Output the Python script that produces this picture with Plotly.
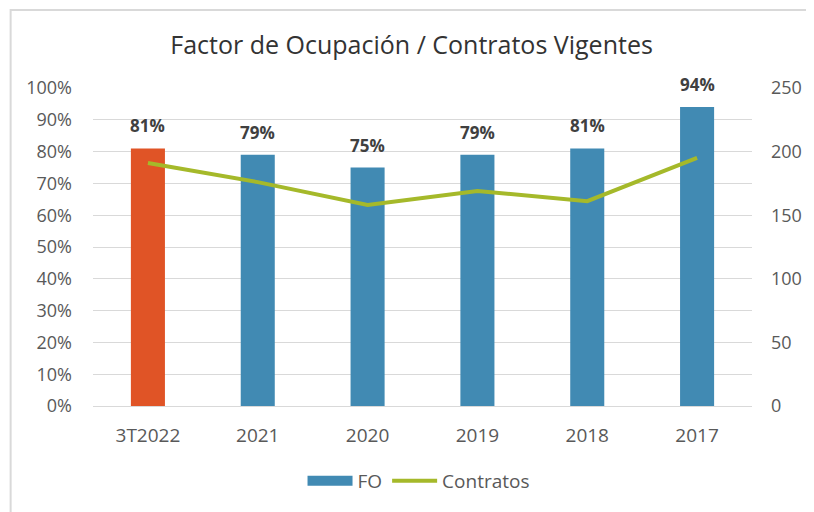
import plotly.graph_objects as go

categories = ["3T2022", "2021", "2020", "2019", "2018", "2017"]
fo_values = [0.81, 0.79, 0.75, 0.79, 0.81, 0.94]
fo_labels = ["81%", "79%", "75%", "79%", "81%", "94%"]
contratos = [191, 176, 158, 169, 161, 195]
highlight = "3T2022"

BLUE = "#418ab3"
RED = "#e05426"
GREEN = "#a5b92a"
FONT = "Open Sans, sans-serif"
TICK = "#595959"

# page offset (browser body margin)
OFF = 8
W, H = 814 - OFF, 512 - OFF
L, R, T = 93 - OFF, 814 - 757, 88 - OFF
B = H - (406 - OFF)
pw, ph = W - L - R, H - T - B

def px(x):
    return (x - OFF - L) / pw

def py(y):
    return (H - B - (y - OFF)) / ph

blue_x = [c for c in categories if c != highlight]
blue_y = [v for c, v in zip(categories, fo_values) if c != highlight]
red_x = [c for c in categories if c == highlight]
red_y = [v for c, v in zip(categories, fo_values) if c == highlight]

fig = go.Figure()
fig.add_trace(go.Bar(x=blue_x, y=blue_y, name="FO", showlegend=False,
                     marker=dict(color=BLUE, line=dict(width=0)), width=0.31))
fig.add_trace(go.Bar(x=red_x, y=red_y, name="FO", showlegend=False,
                     marker=dict(color=RED, line=dict(width=0)), width=0.31))
# legend entry for FO drawn as a wide block
fig.add_trace(go.Scatter(x=[None], y=[None], name="FO", mode="lines",
                         line=dict(color=BLUE, width=12), hoverinfo="skip"))
fig.add_trace(go.Scatter(x=categories, y=contratos, name="Contratos", yaxis="y2",
                         mode="lines", line=dict(color=GREEN, width=4)))

annotations = [
    dict(x=i, y=v, xref="x", yref="y", text=t, showarrow=False,
         yanchor="bottom", yshift=9,
         font=dict(family=FONT, size=17, color="#404040", weight="bold"))
    for i, (v, t) in enumerate(zip(fo_values, fo_labels))
]

fig.update_layout(
    width=W, height=H,
    margin=dict(l=L, r=R, t=T, b=B),
    paper_bgcolor="white", plot_bgcolor="white",
    barmode="overlay",
    title=dict(text="Factor de Ocupación / Contratos Vigentes",
               xref="paper", x=px(414), xanchor="center",
               y=1 - (45 - OFF) / H, yanchor="middle",
               font=dict(family=FONT, size=25, color="#333333")),
    showlegend=True,
    legend=dict(orientation="h", x=px(421), xanchor="center", y=py(481), yanchor="middle",
                font=dict(family=FONT, size=19, color=TICK),
                traceorder="normal", tracegroupgap=0, itemwidth=45),
    xaxis=dict(type="category", categoryorder="array", categoryarray=categories,
               range=[-0.5, len(categories) - 0.5],
               showgrid=False, showline=True, linecolor="#d9d9d9", linewidth=1,
               ticks="", tickfont=dict(family=FONT, size=19, color=TICK),
               ticklabelstandoff=12),
    yaxis=dict(range=[0, 1], tickvals=[i / 10 for i in range(11)],
               ticktext=[f"{i*10}%" for i in range(11)],
               showgrid=True, gridcolor="#d9d9d9", gridwidth=1, zeroline=False,
               tickfont=dict(family=FONT, size=18, color=TICK),
               ticklabelstandoff=20),
    yaxis2=dict(range=[0, 250], tickvals=[0, 50, 100, 150, 200, 250],
                overlaying="y", side="right", showgrid=False, zeroline=False,
                tickfont=dict(family=FONT, size=18, color=TICK),
                ticklabelstandoff=18),
    annotations=annotations,
    shapes=[dict(type="rect", xref="paper", yref="paper",
                 x0=px(10), x1=px(830), y0=py(530), y1=py(10),
                 line=dict(color="#d9d9d9", width=2), fillcolor="rgba(0,0,0,0)",
                 layer="below")],
)

fig.write_html("out.html")
